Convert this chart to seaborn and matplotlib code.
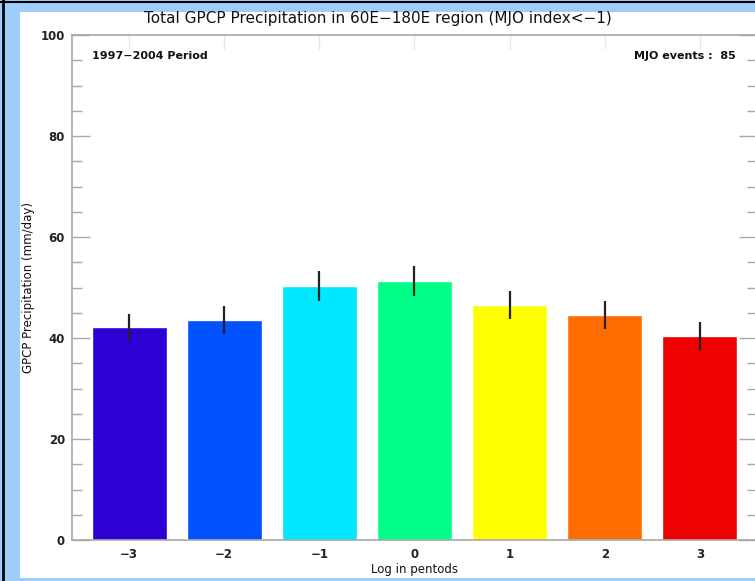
import pandas as pd
import matplotlib.pyplot as plt
import matplotlib.patches as mpatches
import matplotlib.lines as mlines
from matplotlib.ticker import MultipleLocator
import seaborn as sns

# --- Data ---
lags = ["\u22123", "\u22122", "\u22121", "0", "1", "2", "3"]
precip = [42.1, 43.6, 50.3, 51.3, 46.5, 44.6, 40.4]
errors = [2.7, 2.8, 3.0, 3.0, 2.8, 2.8, 2.7]
bar_colors = ["#2d00d4", "#0052ff", "#00e8ff", "#00ff88", "#ffff00", "#ff6c00", "#f00000"]

TITLE = "Total GPCP Precipitation in 60E\u2212180E region (MJO index<\u22121)"
PERIOD = "1997\u22122004 Period"
EVENTS = "MJO events :  85"

sns.set_theme(style="white")
plt.rcParams['font.family'] = ['DejaVu Sans']

df = pd.DataFrame({"lag": lags, "precip": precip})

fig = plt.figure(figsize=(7.55, 5.81), dpi=100)
fig.patch.set_facecolor("#9fcdfa")

# white panel inside the light blue border
fig.patches.append(mpatches.Rectangle((20 / 755, 3 / 581), 1.0, 566 / 581,
                                      transform=fig.transFigure, facecolor="white",
                                      edgecolor="none", zorder=-10))
fig.lines.append(mlines.Line2D([3 / 755, 3 / 755], [0, 1], transform=fig.transFigure,
                               color="black", lw=2, zorder=-5))
fig.lines.append(mlines.Line2D([0, 1], [579 / 581, 579 / 581], transform=fig.transFigure,
                               color="black", lw=1.5, zorder=-5))

ax = fig.add_axes([72 / 755, 41 / 581, 685 / 755, 505 / 581])
ax.set_zorder(5)
ax.set_facecolor("white")

sns.barplot(data=df, x="lag", y="precip", hue="lag", palette=bar_colors,
            order=lags, hue_order=lags, legend=False, errorbar=None,
            width=0.79, saturation=1, ax=ax)
ax.errorbar(range(len(lags)), precip, yerr=errors, fmt="none",
            ecolor="#222222", elinewidth=1.6, capsize=0, zorder=5)

ax.set_ylim(0, 100)
ax.set_xlim(-0.6, 6.6)
ax.yaxis.set_major_locator(MultipleLocator(20))
ax.yaxis.set_minor_locator(MultipleLocator(5))

grey = "#a8a8a8"
for side in ["left", "bottom", "top", "right"]:
    ax.spines[side].set_color(grey)
    ax.spines[side].set_linewidth(1.2)
ax.tick_params(axis="y", which="major", direction="in", length=13, width=1,
               color=grey, labelsize=8.5, right=True, left=True, pad=5)
ax.tick_params(axis="y", which="minor", direction="in", length=7, width=1,
               color=grey, right=True, left=True)
ax.tick_params(axis="x", which="major", direction="in", length=10, width=1,
               color="#e8e8e8", labelsize=8.5, top=True, bottom=True, pad=6)
for lbl in ax.get_xticklabels() + ax.get_yticklabels():
    lbl.set_fontweight("bold")
    lbl.set_color("#222222")

ax.set_xlabel("Log in pentods", fontsize=8.5, labelpad=1, color="#111111")
ax.set_ylabel("GPCP Precipitation (mm/day)", fontsize=8.5, labelpad=4, color="#111111")

fig.text(0.5, 1 - 19 / 581, TITLE, ha="center", va="center", fontsize=11, color="#111111")
fig.text(92 / 755, 1 - 56 / 581, PERIOD, ha="left", va="center", fontsize=8,
         fontweight="bold", color="#111111", zorder=10)
fig.text(736 / 755, 1 - 56 / 581, EVENTS, ha="right", va="center", fontsize=8,
         fontweight="bold", color="#111111", zorder=10)

plt.savefig("out.png", dpi=100, facecolor=fig.get_facecolor())
plt.close()
